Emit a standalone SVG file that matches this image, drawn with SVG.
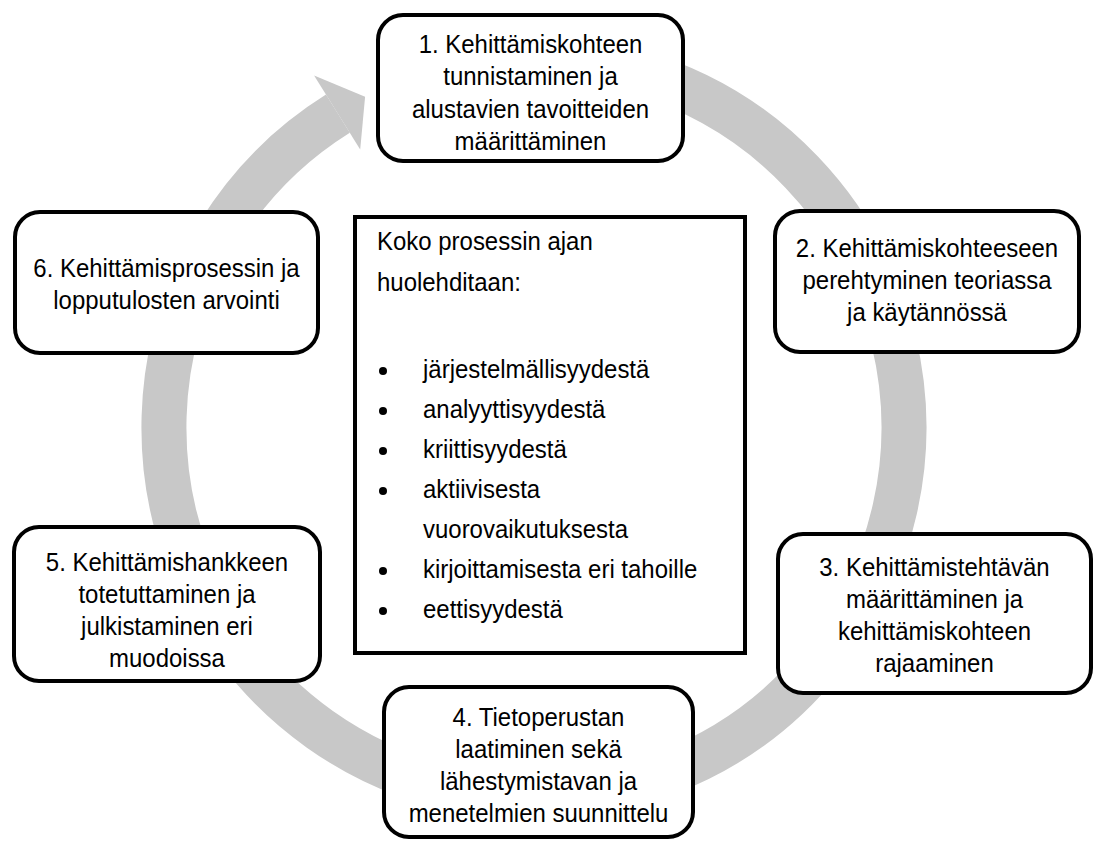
<svg xmlns="http://www.w3.org/2000/svg" width="1096" height="841" viewBox="0 0 1096 841">
  <style>
    .node { fill: #ffffff; stroke: #000000; stroke-width: 4; }
    .label { font-family: "Liberation Sans", Arial, sans-serif; font-size: 25.5px; fill: #000000; text-anchor: middle; }
    .body { font-family: "Liberation Sans", Arial, sans-serif; font-size: 25.5px; fill: #000000; }
    .ring { fill: none; stroke: #c8c8c8; stroke-width: 45; }
  </style>
  <rect x="0" y="0" width="1096" height="841" fill="#ffffff"/>

  <!-- circular flow arrow behind the steps -->
  <g id="connectors">
    <path class="ring" d="M 469.8 63.1 A 370 370 0 1 1 337.9 113.7"/>
    <polygon fill="#c8c8c8" points="314.1,75.6 365.1,96.7 360.2,149.4"/>
  </g>

  <!-- text is set slightly condensed: each label block is scaled horizontally about its anchor -->
  <g id="step1">
    <rect class="node" x="378" y="15" width="305" height="146" rx="25" ry="25"/>
    <g transform="translate(530.5 0) scale(0.94 1)">
      <text class="label" x="0" y="53">1. Kehittämiskohteen</text>
      <text class="label" x="0" y="85.5">tunnistaminen ja</text>
      <text class="label" x="0" y="118">alustavien tavoitteiden</text>
      <text class="label" x="0" y="150.5">määrittäminen</text>
    </g>
  </g>

  <g id="step2">
    <rect class="node" x="775" y="211" width="304" height="141" rx="25" ry="25"/>
    <g transform="translate(927 0) scale(0.94 1)">
      <text class="label" x="0" y="257">2. Kehittämiskohteeseen</text>
      <text class="label" x="0" y="289">perehtyminen teoriassa</text>
      <text class="label" x="0" y="321">ja käytännössä</text>
    </g>
  </g>

  <g id="step3">
    <rect class="node" x="778" y="534" width="313" height="159" rx="25" ry="25"/>
    <g transform="translate(934.5 0) scale(0.94 1)">
      <text class="label" x="0" y="576">3. Kehittämistehtävän</text>
      <text class="label" x="0" y="608">määrittäminen ja</text>
      <text class="label" x="0" y="640">kehittämiskohteen</text>
      <text class="label" x="0" y="672">rajaaminen</text>
    </g>
  </g>

  <g id="step4">
    <rect class="node" x="384" y="687" width="309" height="150" rx="25" ry="25"/>
    <g transform="translate(538.5 0) scale(0.94 1)">
      <text class="label" x="0" y="726">4. Tietoperustan</text>
      <text class="label" x="0" y="758">laatiminen sekä</text>
      <text class="label" x="0" y="790">lähestymistavan ja</text>
      <text class="label" x="0" y="822">menetelmien suunnittelu</text>
    </g>
  </g>

  <g id="step5">
    <rect class="node" x="14" y="527" width="306" height="154" rx="25" ry="25"/>
    <g transform="translate(167 0) scale(0.94 1)">
      <text class="label" x="0" y="571">5. Kehittämishankkeen</text>
      <text class="label" x="0" y="603">totetuttaminen ja</text>
      <text class="label" x="0" y="635">julkistaminen eri</text>
      <text class="label" x="0" y="667">muodoissa</text>
    </g>
  </g>

  <g id="step6">
    <rect class="node" x="15" y="212" width="303" height="141" rx="25" ry="25"/>
    <g transform="translate(166.5 0) scale(0.94 1)">
      <text class="label" x="0" y="277">6. Kehittämisprosessin ja</text>
      <text class="label" x="0" y="309">lopputulosten arvointi</text>
    </g>
  </g>

  <g id="center">
    <rect class="node" x="355" y="217" width="390" height="436"/>
    <g transform="translate(377 0) scale(0.94 1)">
      <text class="body" x="0" y="250">Koko prosessin ajan</text>
      <text class="body" x="0" y="291">huolehditaan:</text>
    </g>
    <g fill="#000000">
      <circle cx="383" cy="371" r="4"/>
      <circle cx="383" cy="411" r="4"/>
      <circle cx="383" cy="451" r="4"/>
      <circle cx="383" cy="491" r="4"/>
      <circle cx="383" cy="571" r="4"/>
      <circle cx="383" cy="611" r="4"/>
    </g>
    <g transform="translate(423 0) scale(0.94 1)">
      <text class="body" x="0" y="378">järjestelmällisyydestä</text>
      <text class="body" x="0" y="418">analyyttisyydestä</text>
      <text class="body" x="0" y="458">kriittisyydestä</text>
      <text class="body" x="0" y="498">aktiivisesta</text>
      <text class="body" x="0" y="538">vuorovaikutuksesta</text>
      <text class="body" x="0" y="578">kirjoittamisesta eri tahoille</text>
      <text class="body" x="0" y="618">eettisyydestä</text>
    </g>
  </g>
</svg>
